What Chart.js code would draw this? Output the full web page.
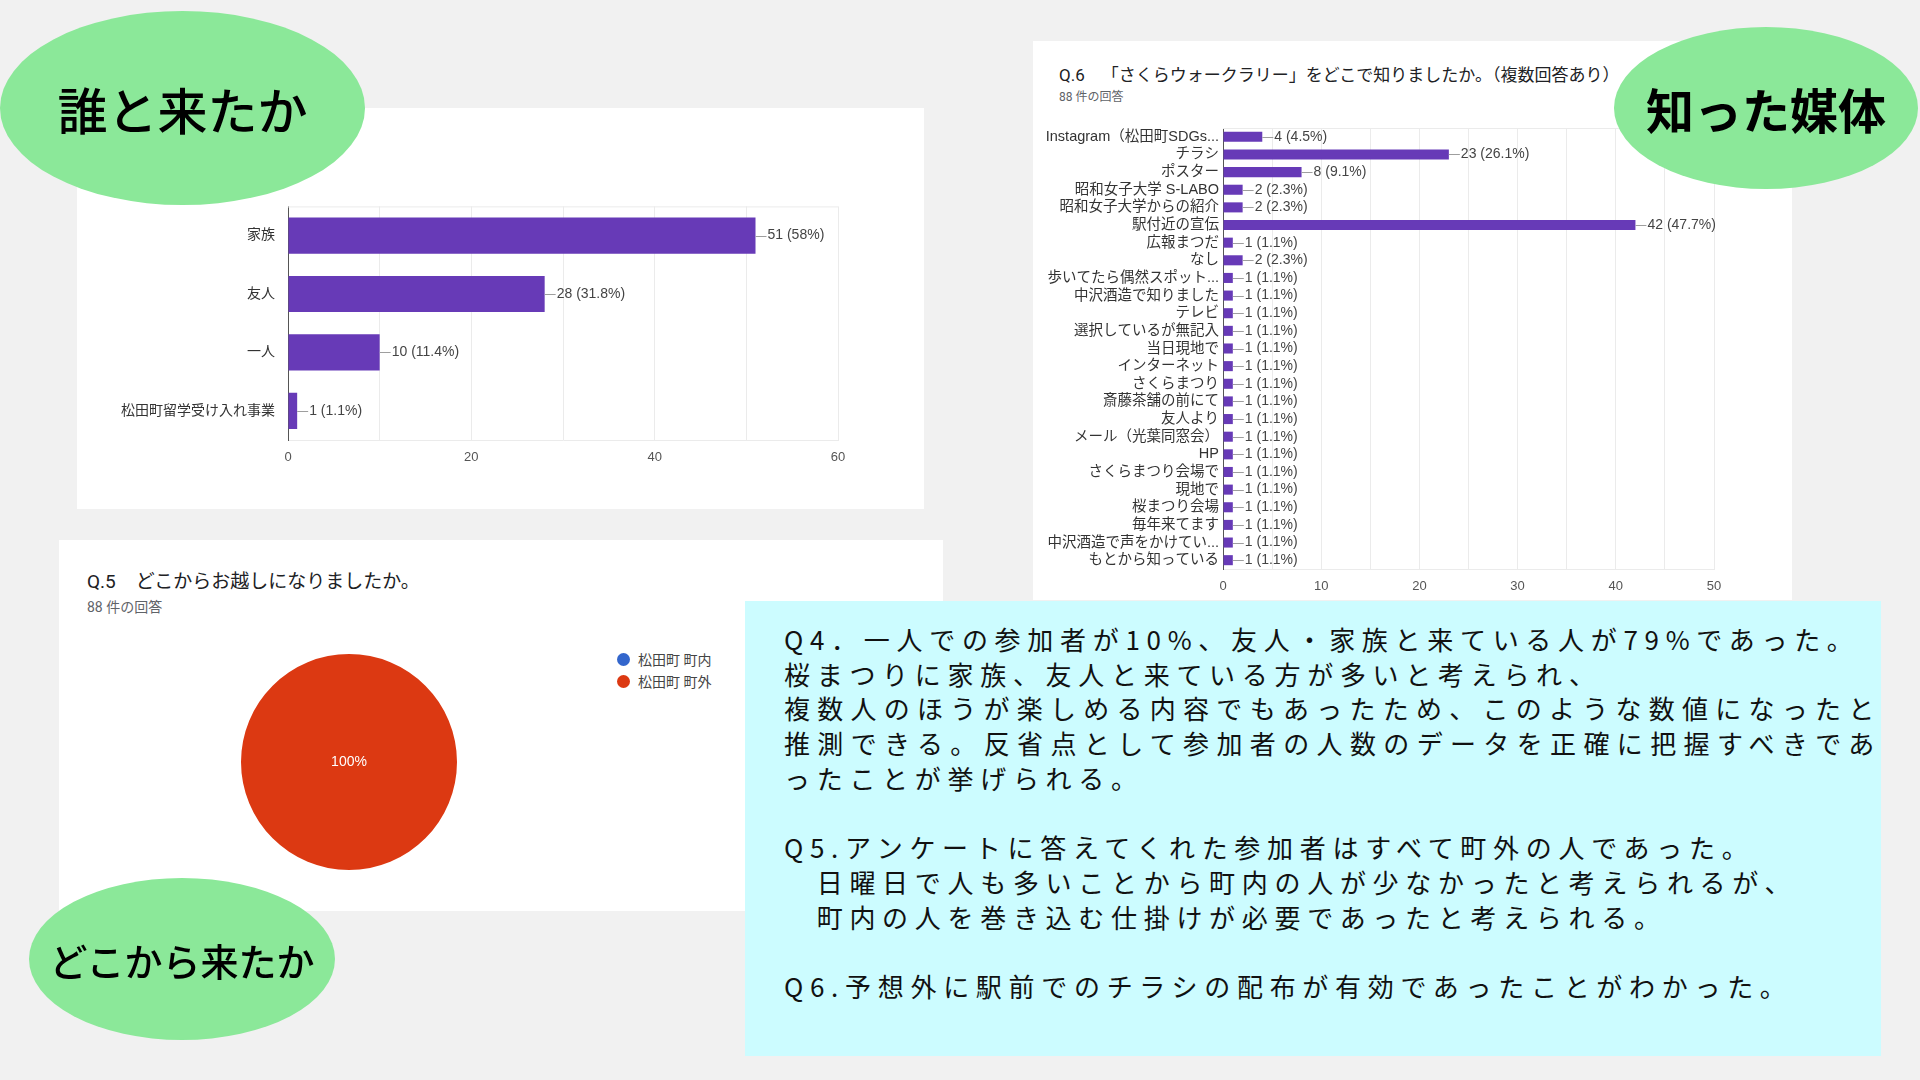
<!DOCTYPE html>
<html lang="ja">
<head>
<meta charset="utf-8">
<title>さくらウォークラリー アンケート結果</title>
<script src="https://cdn.jsdelivr.net/npm/chart.js@4.4.1/dist/chart.umd.min.js"></script>
<style>
  html, body { margin: 0; padding: 0; }
  body {
    width: 1920px; height: 1080px; position: relative; overflow: hidden;
    background: #f1f1f1;
    font-family: Roboto, "Noto Sans CJK JP", sans-serif;
  }
  .panel { position: absolute; background: #fff; }
  .bubble {
    position: absolute; background: #8be899; border-radius: 50%;
    display: flex; align-items: center; justify-content: center;
    font-family: "Noto Sans CJK JP", sans-serif; color: #000; white-space: nowrap;
  }
  canvas { position: absolute; }
  .title { position: absolute; color: #202124; white-space: pre; line-height: 1; }
  .title .q { display: inline-block; }
  .sub { position: absolute; color: #5f6368; white-space: pre; line-height: 1; }
  #q5-legend { position: absolute; left: 617px; top: 648px; font-size: 14px; color: #444; }
  #q5-legend .item { height: 22px; display: flex; align-items: center; }
  #q5-legend .dot { width: 13px; height: 13px; border-radius: 50%; margin-right: 8px; }
  #note {
    position: absolute; left: 745px; top: 601px; width: 1136px; height: 455px;
    box-sizing: border-box; padding: 21px 0 0 39px;
    background: #ccfcff; color: #111;
    font-family: "Noto Sans CJK JP", sans-serif; font-size: 26px;
    letter-spacing: 6.7px; line-height: 34.7px;
  }
  #note .ln { height: 34.7px; white-space: pre; }
  #note .ln.wrap { width: 1097px; white-space: normal; text-align: justify; text-align-last: justify; }
</style>
</head>
<body>

<div class="panel" style="left:77px;top:108px;width:847px;height:401px"></div>
<canvas id="q4" width="800" height="300" style="left:90px;top:185px"></canvas>

<div class="panel" style="left:59px;top:540px;width:884px;height:371px"></div>
<div class="title" style="left:87px;top:572px;font-size:19px"><span class="q" style="margin-right:20px">Q.5</span>どこからお越しになりましたか。</div>
<div class="sub" style="left:87px;top:600px;font-size:14px">88 件の回答</div>
<canvas id="q5" width="240" height="240" style="left:229px;top:642px"></canvas>
<div id="q5-legend"></div>

<div class="panel" style="left:1033px;top:41px;width:759px;height:559px"></div>
<div class="title" style="left:1059px;top:67px;font-size:17px"><span class="q" style="margin-right:17px">Q.6</span>「さくらウォークラリー」をどこで知りましたか。（複数回答あり）</div>
<div class="sub" style="left:1059px;top:91px;font-size:12px">88 件の回答</div>
<canvas id="q6" width="740" height="490" style="left:1040px;top:110px"></canvas>

<div id="note"></div>

<div class="bubble" style="left:0;top:11px;width:365px;height:194px;font-size:50px;font-weight:500">誰と来たか</div>
<div class="bubble" style="left:1614px;top:27px;width:304px;height:162px;font-size:48px;font-weight:700">知った媒体</div>
<div class="bubble" style="left:29px;top:878px;width:306px;height:162px;font-size:38px;font-weight:500">どこから来たか</div>

<script>
const RESPONDENTS = 88;

// Q4 誰と来たか
const companionLabels = ["家族", "友人", "一人", "松田町留学受け入れ事業"];
const companionCounts = [51, 28, 10, 1];

// Q5 どこから来たか
const originLabels = ["松田町 町内", "松田町 町外"];
const originCounts = [0, 88];

// Q6 知った媒体
const mediaLabels = [
  "Instagram（松田町SDGs...", "チラシ", "ポスター", "昭和女子大学 S-LABO",
  "昭和女子大学からの紹介", "駅付近の宣伝", "広報まつだ", "なし",
  "歩いてたら偶然スポット...", "中沢酒造で知りました", "テレビ", "選択しているが無記入",
  "当日現地で", "インターネット", "さくらまつり", "斎藤茶舗の前にて",
  "友人より", "メール（光葉同窓会）", "HP", "さくらまつり会場で",
  "現地で", "桜まつり会場", "毎年来てます", "中沢酒造で声をかけてい...",
  "もとから知っている",
];
const mediaCounts = [4, 23, 8, 2, 2, 42, 1, 2, 1, 1, 1, 1, 1, 1, 1, 1, 1, 1, 1, 1, 1, 1, 1, 1, 1];

const noteLines = [
  "Q4．一人での参加者が10%、友人・家族と来ている人が79%であった。",
  "桜まつりに家族、友人と来ている方が多いと考えられ、",
  "複数人のほうが楽しめる内容でもあったため、このような数値になったと",
  "推測できる。反省点として参加者の人数のデータを正確に把握すべきであ",
  "ったことが挙げられる。",
  "",
  "Q5.アンケートに答えてくれた参加者はすべて町外の人であった。",
  "　日曜日で人も多いことから町内の人が少なかったと考えられるが、",
  "　町内の人を巻き込む仕掛けが必要であったと考えられる。",
  "",
  "Q6.予想外に駅前でのチラシの配布が有効であったことがわかった。",
];
// lines that wrap onto the next one (justified to the box width)
const wrappedLines = [2, 3];

const BAR = "#673ab7";
const PIE_COLORS = ["#3366cc", "#dc3912"];
const GRID = "#ebebeb";
const FONT = 'Arial, "Liberation Sans", "Noto Sans CJK JP", sans-serif';

Chart.defaults.font.family = FONT;

const pct = (v) => Number(((v / RESPONDENTS) * 100).toFixed(1));

// "—51 (58%)" labels after each bar, plus the light line along the top of the plot
const valueLabels = (size) => ({
  id: "valueLabels",
  beforeDatasetsDraw(chart) {
    const { ctx, chartArea } = chart;
    ctx.save();
    ctx.strokeStyle = GRID;
    ctx.beginPath();
    ctx.moveTo(chartArea.left, chartArea.top + 0.5);
    ctx.lineTo(chartArea.right, chartArea.top + 0.5);
    ctx.stroke();
    ctx.restore();
  },
  afterDatasetsDraw(chart) {
    const { ctx } = chart;
    const values = chart.data.datasets[0].data;
    ctx.save();
    ctx.font = `${size}px ${FONT}`;
    ctx.textBaseline = "middle";
    chart.getDatasetMeta(0).data.forEach((bar, i) => {
      ctx.strokeStyle = "#9e9e9e";
      ctx.lineWidth = 1;
      ctx.beginPath();
      ctx.moveTo(bar.x, Math.round(bar.y) + 0.5);
      ctx.lineTo(bar.x + 11, Math.round(bar.y) + 0.5);
      ctx.stroke();
      ctx.fillStyle = "#444";
      ctx.fillText(`${values[i]} (${pct(values[i])}%)`, bar.x + 12, bar.y);
    });
    ctx.restore();
  },
});

const barChart = (id, labels, data, opts) =>
  new Chart(document.getElementById(id), {
    type: "bar",
    data: {
      labels,
      datasets: [{ data, backgroundColor: BAR, barPercentage: opts.barPct, categoryPercentage: 1 }],
    },
    options: {
      indexAxis: "y",
      responsive: false,
      animation: false,
      layout: { padding: opts.padding },
      plugins: { legend: { display: false }, tooltip: { enabled: false } },
      scales: {
        x: {
          min: 0,
          max: opts.max,
          ticks: {
            stepSize: opts.step,
            autoSkip: false,
            maxRotation: 0,
            padding: 10,
            color: "#555",
            font: { size: 13 },
            callback: (v) => (v % opts.labelEvery === 0 ? v : ""),
          },
          grid: {
            drawTicks: false,
            color: (c) => (c.tick && c.tick.value === 0 ? "rgba(0,0,0,0)" : GRID),
          },
          border: { color: GRID },
          afterFit: (s) => { s.height = opts.xHeight; },
        },
        y: {
          ticks: { autoSkip: false, padding: opts.labelPad, color: "#333", font: { size: opts.labelSize } },
          grid: { display: false, drawTicks: false },
          border: { color: "#555" },
          afterFit: (s) => { s.width = opts.yWidth; },
        },
      },
    },
    plugins: [valueLabels(14)],
  });

barChart("q4", companionLabels, companionCounts, {
  barPct: 0.62, max: 60, step: 10, labelEvery: 20,
  padding: { top: 20, right: 52, bottom: 0, left: 0 },
  xHeight: 45, yWidth: 198, labelPad: 13, labelSize: 14,
});

barChart("q6", mediaLabels, mediaCounts, {
  barPct: 0.57, max: 50, step: 5, labelEvery: 10,
  padding: { top: 18, right: 66, bottom: 0, left: 0 },
  xHeight: 31, yWidth: 183, labelPad: 4, labelSize: 14.5,
});

const pieLabels = {
  id: "pieLabels",
  afterDatasetsDraw(chart) {
    const { ctx } = chart;
    const values = chart.data.datasets[0].data;
    const total = values.reduce((a, b) => a + b, 0);
    ctx.save();
    ctx.font = `14px ${FONT}`;
    ctx.fillStyle = "#fff";
    ctx.textAlign = "center";
    ctx.textBaseline = "middle";
    chart.getDatasetMeta(0).data.forEach((arc, i) => {
      if (!values[i]) return;
      const share = values[i] / total;
      const pos = share === 1 ? { x: arc.x, y: arc.y } : arc.tooltipPosition();
      ctx.fillText(`${Number((share * 100).toFixed(1))}%`, pos.x, pos.y);
    });
    ctx.restore();
  },
};

new Chart(document.getElementById("q5"), {
  type: "pie",
  data: {
    labels: originLabels,
    datasets: [{ data: originCounts, backgroundColor: PIE_COLORS, borderWidth: 0 }],
  },
  options: {
    responsive: false,
    animation: false,
    layout: { padding: 12 },
    plugins: { legend: { display: false }, tooltip: { enabled: false } },
  },
  plugins: [pieLabels],
});

document.getElementById("q5-legend").innerHTML = originLabels
  .map((l, i) => `<div class="item"><span class="dot" style="background:${PIE_COLORS[i]}"></span>${l}</div>`)
  .join("");

const note = document.getElementById("note");
noteLines.forEach((line, i) => {
  const div = document.createElement("div");
  div.className = wrappedLines.includes(i) ? "ln wrap" : "ln";
  // inter-character breaks so justify can spread CJK text
  div.textContent = wrappedLines.includes(i) ? line.split("").join("\u200b") : line;
  note.appendChild(div);
});
</script>
</body>
</html>
